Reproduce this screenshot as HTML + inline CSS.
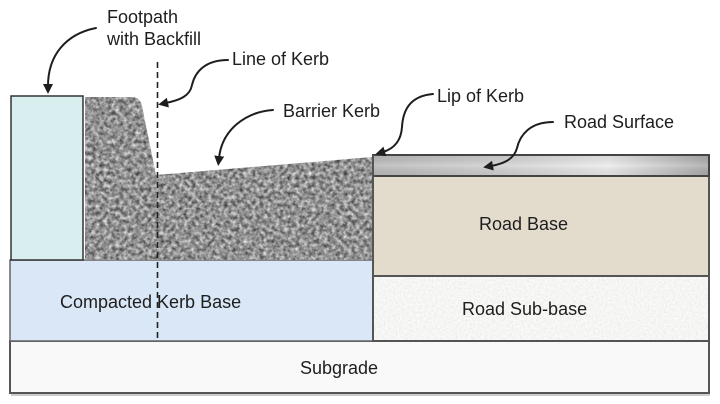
<!DOCTYPE html>
<html>
<head>
<meta charset="utf-8">
<style>
  html,body{margin:0;padding:0;background:#fff;}
  body{width:720px;height:404px;overflow:hidden;}
  svg{display:block;}
  text{font-family:"Liberation Sans", Arial, sans-serif;font-size:18px;fill:#1e1e1e;}
</style>
</head>
<body>
<svg width="720" height="404" viewBox="0 0 720 404" xmlns="http://www.w3.org/2000/svg">
  <defs>
    <filter id="granite" filterUnits="userSpaceOnUse" x="80" y="90" width="300" height="175" color-interpolation-filters="sRGB">
      <feTurbulence type="fractalNoise" baseFrequency="0.25" numOctaves="2" seed="7" result="n"/>
      <feColorMatrix in="n" type="matrix" values="0.9 0 0 0 0.12  0.9 0 0 0 0.12  0.9 0 0 0 0.12  0 0 0 0 1" result="g"/>
      <feComposite in="g" in2="SourceGraphic" operator="in"/>
    </filter>
    <filter id="speck" filterUnits="userSpaceOnUse" x="370" y="270" width="345" height="75">
      <feTurbulence type="fractalNoise" baseFrequency="0.5" numOctaves="1" seed="3" result="n"/>
      <feColorMatrix in="n" type="matrix" values="0.25 0 0 0 0.8  0.25 0 0 0 0.8  0.25 0 0 0 0.79  0 0 0 0 1" result="g"/>
      <feComposite in="g" in2="SourceGraphic" operator="in"/>
    </filter>
    <linearGradient id="surf" x1="0" y1="0" x2="1" y2="0">
      <stop offset="0" stop-color="#b9b9b9"/>
      <stop offset="0.4" stop-color="#d2d2d2"/>
      <stop offset="0.7" stop-color="#ebebeb"/>
      <stop offset="1" stop-color="#aaaaaa"/>
    </linearGradient>
    <linearGradient id="surfv" x1="0" y1="0" x2="0" y2="1">
      <stop offset="0" stop-color="#000" stop-opacity="0.06"/>
      <stop offset="0.5" stop-color="#fff" stop-opacity="0.15"/>
      <stop offset="1" stop-color="#000" stop-opacity="0.06"/>
    </linearGradient>
    <marker id="ah" markerUnits="userSpaceOnUse" markerWidth="12" markerHeight="12" refX="2" refY="5" orient="auto">
      <path d="M0,0 L10,5 L0,10 z" fill="#1e1e1e"/>
    </marker>
  </defs>

  <!-- Subgrade -->
  <rect x="10" y="341" width="699" height="52" fill="#f9f9f9" stroke="#555" stroke-width="2"/>
  <line x1="11" y1="395" x2="710" y2="395" stroke="#bbb" stroke-width="1.5"/>

  <!-- Compacted kerb base -->
  <rect x="10" y="260" width="363" height="81" fill="#d9e7f6" stroke="#666" stroke-width="1.5"/>

  <!-- Road sub-base -->
  <rect x="373" y="276" width="336" height="65" fill="#ededeb"/>
  <rect x="373" y="276" width="336" height="65" fill="#fff" filter="url(#speck)" opacity="0.9"/>
  <rect x="373" y="276" width="336" height="65" fill="none" stroke="#555" stroke-width="2"/>

  <!-- Road base -->
  <rect x="373" y="176" width="336" height="100" fill="#e3dccd" stroke="#555" stroke-width="2"/>

  <!-- Road surface -->
  <rect x="373" y="155" width="336" height="21" fill="url(#surf)"/>
  <rect x="373" y="155" width="336" height="21" fill="url(#surfv)" stroke="#444" stroke-width="2"/>

  <!-- Footpath -->
  <rect x="11" y="96" width="72" height="164" fill="#d9eeee" stroke="#333" stroke-width="1.5"/>

  <!-- Barrier kerb -->
  <path d="M85,97 L132,97 Q140,97 142,106 L156,175 L372,157 L372,260 L85,260 Z" fill="#999" filter="url(#granite)"/>

  <!-- Vertical line between road and kerb -->
  <line x1="373" y1="155" x2="373" y2="342" stroke="#555" stroke-width="2"/>

  <!-- Line of kerb (dashed) -->
  <line x1="157.5" y1="62" x2="157.5" y2="342" stroke="#222" stroke-width="1.6" stroke-dasharray="6,4"/>

  <!-- Arrows -->
  <g fill="none" stroke="#1e1e1e" stroke-width="2" stroke-linecap="round">
    <path d="M96,28 C66,34 48,55 48,86" marker-end="url(#ah)"/>
    <path d="M228,60 C205,60 195,72 192,85 C190,96 180,100 166,103" marker-end="url(#ah)"/>
    <path d="M273,110 C245,112 222,130 219,158" marker-end="url(#ah)"/>
    <path d="M433,94 C410,96 403,110 402,127 C401,142 393,149 383,152" marker-end="url(#ah)"/>
    <path d="M553,122 C530,122 520,135 517,148 C514,160 502,164 491,166" marker-end="url(#ah)"/>
  </g>

  <!-- Labels -->
  <text x="107" y="23">Footpath</text>
  <text x="107" y="45">with Backfill</text>
  <text x="232" y="65">Line of Kerb</text>
  <text x="283" y="117">Barrier Kerb</text>
  <text x="437" y="102">Lip of Kerb</text>
  <text x="564" y="128">Road Surface</text>
  <text x="479" y="230">Road Base</text>
  <text x="60" y="308">Compacted Kerb Base</text>
  <text x="462" y="315">Road Sub-base</text>
  <text x="300" y="374">Subgrade</text>
</svg>
</body>
</html>
